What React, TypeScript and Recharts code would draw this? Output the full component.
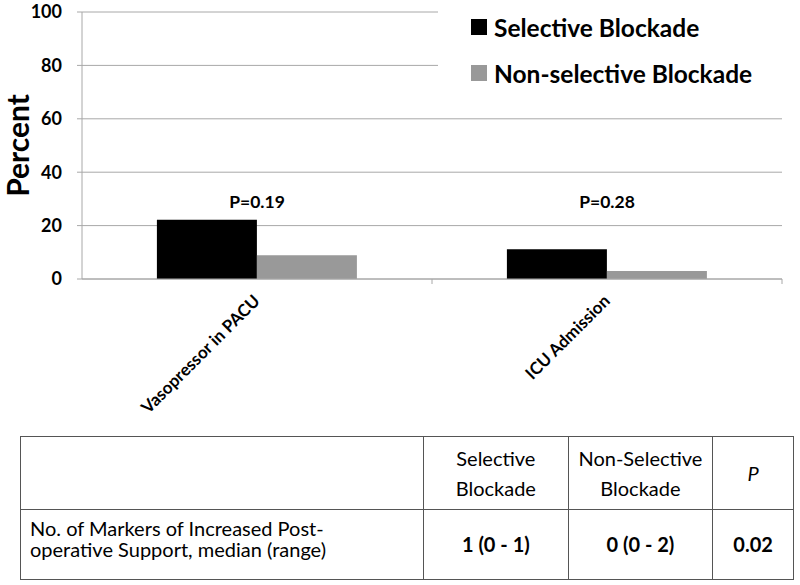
import { BarChart, Bar, XAxis, YAxis, CartesianGrid, Legend, ReferenceDot } from "recharts";

const categories = ["Vasopressor in PACU", "ICU Admission"];
const selectiveBlockade = [22.2, 11.1];
const nonSelectiveBlockade = [8.9, 3.0];
const pValueLabels = ["P=0.19", "P=0.28"];
const yTicks = [0, 20, 40, 60, 80, 100];

const seriesNames = ["Selective Blockade", "Non-selective Blockade"];
const seriesColors = ["#000000", "#999999"];

const tableHeader = ["", "Selective\nBlockade", "Non-Selective\nBlockade", "P"];
const tableRow = [
  "No. of Markers of Increased Post-\noperative Support, median (range)",
  "1 (0 - 1)",
  "0 (0 - 2)",
  "0.02",
];

const data = categories.map((name, i) => ({
  name,
  selective: selectiveBlockade[i],
  nonSelective: nonSelectiveBlockade[i],
  pLabel: pValueLabels[i],
}));

const FONT = "Lato, 'Open Sans', sans-serif";
const GRID = "#a8a8a8";
const CHART_W = 800;
const CHART_H = 430;
const MARGIN = { top: 12, right: 18, left: 0, bottom: 0 };
const Y_AXIS_W = 82;
const HALF_BAND = (CHART_W - MARGIN.left - MARGIN.right - Y_AXIS_W) / categories.length / 2;
const P_LABEL_LEVEL = 29;

const CategoryTick = ({ x, y, payload }: any) => (
  <g>
    <line x1={x + HALF_BAND} x2={x + HALF_BAND} y1={y} y2={y + 5} stroke={GRID} />
    <text
      x={x + 4}
      y={y + 23}
      textAnchor="end"
      transform={`rotate(-45, ${x + 4}, ${y + 23})`}
      style={{ fontFamily: FONT, fontWeight: 700, fontSize: 17, fill: "#000" }}
    >
      {payload.value}
    </text>
  </g>
);

const LegendBox = () => (
  <div style={{ paddingTop: 4, paddingLeft: 33, fontFamily: FONT, fontWeight: 700, fontSize: 24.5 }}>
    {seriesNames.map((name, i) => (
      <div key={name} style={{ display: "flex", alignItems: "center", height: 46 }}>
        <span style={{ width: 16, height: 16, background: seriesColors[i], marginRight: 7, display: "inline-block" }} />
        <span>{name}</span>
      </div>
    ))}
  </div>
);

const PercentLabel = ({ viewBox }: any) => {
  const cx = 29;
  const cy = viewBox.y + viewBox.height / 2;
  return (
    <text
      x={cx}
      y={cy}
      textAnchor="middle"
      transform={`rotate(-90, ${cx}, ${cy})`}
      style={{ fontFamily: FONT, fontWeight: 700, fontSize: 30, fill: "#000" }}
    >
      Percent
    </text>
  );
};

const cell = (extra: any = {}) => ({
  border: "1.5px solid #555",
  padding: 0,
  textAlign: "center" as const,
  verticalAlign: "middle" as const,
  whiteSpace: "pre-line" as const,
  ...extra,
});

export default function App() {
  return (
    <div style={{ position: "absolute", left: 0, top: 0, width: 800, height: 585, background: "#fff" }}>
      <BarChart
        width={CHART_W}
        height={CHART_H}
        data={data}
        margin={MARGIN}
        barCategoryGap="21.4%"
        barGap={0}
      >
        <CartesianGrid vertical={false} stroke={GRID} />
        <XAxis
          dataKey="name"
          interval={0}
          height={CHART_H - 279 - MARGIN.bottom}
          tickLine={false}
          tickSize={0}
          tickMargin={0}
          axisLine={{ stroke: GRID }}
          tick={<CategoryTick />}
        />
        <YAxis
          width={Y_AXIS_W}
          domain={[0, 100]}
          ticks={yTicks}
          interval={0}
          tickSize={5}
          tickMargin={15}
          axisLine={{ stroke: GRID }}
          tickLine={{ stroke: GRID }}
          tick={{ fontFamily: FONT, fontWeight: 700, fontSize: 18, fill: "#000" }}
          label={<PercentLabel />}
        />
        <Legend
          layout="horizontal"
          verticalAlign="middle"
          align="center"
          wrapperStyle={{ top: 0, left: 438, width: 350, height: 92, background: "#fff" }}
          content={<LegendBox />}
        />
        <Bar dataKey="selective" name={seriesNames[0]} fill={seriesColors[0]} isAnimationActive={false} />
        <Bar dataKey="nonSelective" name={seriesNames[1]} fill={seriesColors[1]} isAnimationActive={false} />
        {data.map((d) => (
          <ReferenceDot
            key={d.name}
            x={d.name}
            y={P_LABEL_LEVEL}
            r={1}
            fill="none"
            stroke="none"
            label={{
              value: d.pLabel,
              position: "center",
              style: { fontFamily: FONT, fontWeight: 700, fontSize: 17.5, fill: "#000" },
            }}
          />
        ))}
      </BarChart>
      <table
        style={{
          position: "absolute",
          left: 20,
          top: 436,
          width: 774,
          borderCollapse: "collapse",
          fontFamily: FONT,
          fontSize: 20,
          color: "#000",
        }}
      >
        <tbody>
          <tr style={{ height: 73 }}>
            {tableHeader.map((t, i) => (
              <td
                key={i}
                style={cell({
                  width: [404, 144, 144, 80][i],
                  lineHeight: "30px",
                  fontStyle: i === 3 ? "italic" : "normal",
                })}
              >
                {t}
              </td>
            ))}
          </tr>
          <tr style={{ height: 70 }}>
            {tableRow.map((t, i) => (
              <td
                key={i}
                style={cell({
                  lineHeight: "21px",
                  textAlign: i === 0 ? "left" : "center",
                  paddingLeft: i === 0 ? 9 : 0,
                  paddingBottom: i === 0 ? 12 : 0,
                  fontWeight: i === 0 ? 400 : 700,
                })}
              >
                {t}
              </td>
            ))}
          </tr>
        </tbody>
      </table>
    </div>
  );
}
